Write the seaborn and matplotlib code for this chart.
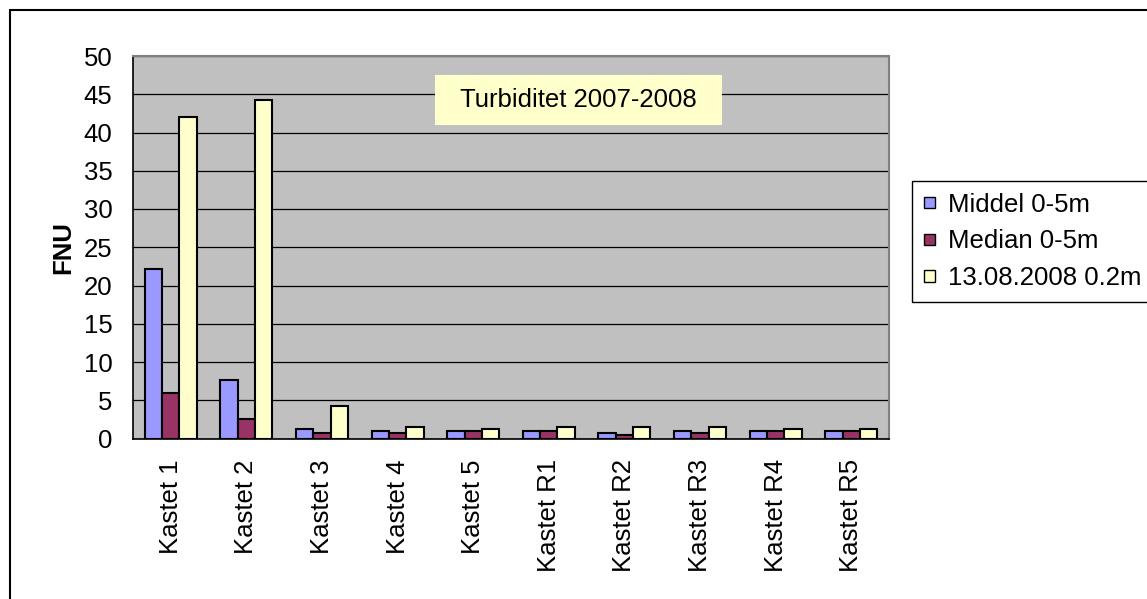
import numpy as np
import pandas as pd
import matplotlib
matplotlib.use('Agg')
import matplotlib.pyplot as plt
from matplotlib.patches import Rectangle
import seaborn as sns

# data
stations = ['Kastet 1', 'Kastet 2', 'Kastet 3', 'Kastet 4', 'Kastet 5',
            'Kastet R1', 'Kastet R2', 'Kastet R3', 'Kastet R4', 'Kastet R5']
series = ['Middel 0-5m', 'Median 0-5m', '13.08.2008 0.2m']
middel = [22.1, 7.7, 1.2, 1.0, 1.0, 1.0, 0.7, 1.0, 1.0, 1.0]
median = [5.9, 2.6, 0.7, 0.7, 1.0, 1.0, 0.4, 0.7, 1.0, 1.0]
aug13 = [42.0, 44.2, 4.2, 1.5, 1.2, 1.5, 1.5, 1.5, 1.2, 1.2]
colors = ['#9999FF', '#993366', '#FFFFCC']
yticks = list(range(0, 51, 5))

sns.set_style('white')
plt.rcParams['font.family'] = ['Liberation Sans', 'DejaVu Sans']
plt.rcParams['text.color'] = 'black'
plt.rcParams['axes.labelcolor'] = 'black'
plt.rcParams['xtick.color'] = 'black'
plt.rcParams['ytick.color'] = 'black'
fs = 18.5

df = pd.DataFrame({
    'station': stations * 3,
    'serie': [series[0]] * 10 + [series[1]] * 10 + [series[2]] * 10,
    'FNU': middel + median + aug13,
})

W, H = 1147, 599
fig = plt.figure(figsize=(W / 100, H / 100), dpi=100)
ax = fig.add_axes([133 / W, 1 - 438.5 / H, (889 - 133) / W, (438.5 - 56) / H])
ax.set_facecolor('#C0C0C0')

sns.barplot(data=df, x='station', y='FNU', hue='serie', hue_order=series,
            order=stations, palette=colors, saturation=1, width=0.69,
            edgecolor='black', linewidth=1.5, ax=ax)

ax.set_ylim(0, 50)
ax.set_xlim(-0.5, 9.5)
ax.set_yticks(yticks)
ax.set_axisbelow(True)
ax.yaxis.grid(True, color='black', linewidth=0.9)

ax.set_xticks(np.arange(10))
ax.set_xticklabels(stations, rotation=90, fontsize=fs)
ax.set_xticks(np.arange(-0.5, 10, 1), minor=True)
ax.tick_params(axis='x', which='major', length=0, pad=15)
ax.tick_params(axis='x', which='minor', length=5.5, width=1, color='black', direction='out')
ax.tick_params(axis='y', length=5.8, width=1, color='black', direction='out', pad=9, labelsize=fs)
ax.set_xlabel('')
ax.set_ylabel('FNU', fontsize=fs, fontweight='bold', labelpad=6)

for side in ['left', 'bottom']:
    ax.spines[side].set_color('black')
    ax.spines[side].set_linewidth(1.2)
for side in ['top', 'right']:
    ax.spines[side].set_color('#808080')
    ax.spines[side].set_linewidth(1.5)

handles, labels = ax.get_legend_handles_labels()
ax.get_legend().remove()
leg = fig.legend(handles, labels, loc='upper left',
                 bbox_to_anchor=(912 / W, 1 - 181 / H), bbox_transform=fig.transFigure,
                 frameon=True, fancybox=False, edgecolor='black', framealpha=1,
                 fontsize=fs, handlelength=0.45, handleheight=0.3,
                 handletextpad=0.5, labelspacing=0.5, borderpad=0.45,
                 borderaxespad=0)
leg.get_frame().set_linewidth(1)
for h in leg.legend_handles:
    h.set_linewidth(1)

# title box inside the plot area
fig.add_artist(Rectangle((435 / W, 1 - 125 / H), (722 - 435) / W, 50 / H,
                         transform=fig.transFigure, facecolor='#FFFFCC',
                         edgecolor='none', zorder=5))
fig.text(578 / W, 1 - 100 / H, 'Turbiditet 2007-2008', fontsize=fs,
         ha='center', va='center', zorder=6)

# outer chart border
fig.add_artist(Rectangle((9.5 / W, -0.1), 1.2, 1.1 - 10.5 / H,
                         transform=fig.transFigure, facecolor='none',
                         edgecolor='black', linewidth=1.5, zorder=10))

fig.savefig('out.png', dpi=100)
